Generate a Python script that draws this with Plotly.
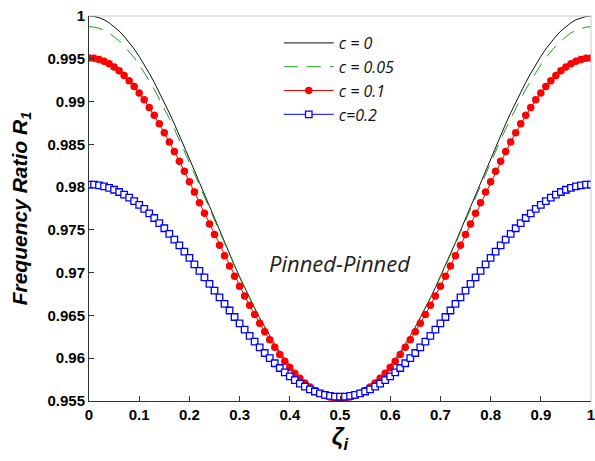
import plotly.graph_objects as go

zeta = [i / 100 for i in range(101)]

r_c0 = [1.00000, 0.99995, 0.99980, 0.99956, 0.99921, 0.99878, 0.99825, 0.99763, 0.99692, 0.99614,
        0.99527, 0.99433, 0.99331, 0.99224, 0.99110, 0.98991, 0.98867, 0.98739, 0.98607, 0.98472,
        0.98334, 0.98195, 0.98054, 0.97913, 0.97772, 0.97631, 0.97491, 0.97353, 0.97217, 0.97083,
        0.96953, 0.96826, 0.96704, 0.96585, 0.96472, 0.96364, 0.96261, 0.96164, 0.96073, 0.95988,
        0.95911, 0.95839, 0.95775, 0.95718, 0.95669, 0.95627, 0.95592, 0.95565, 0.95546, 0.95534,
        0.95530,
        0.95534, 0.95546, 0.95565, 0.95592, 0.95627, 0.95669, 0.95718, 0.95775, 0.95839, 0.95911,
        0.95988, 0.96073, 0.96164, 0.96261, 0.96364, 0.96472, 0.96585, 0.96704, 0.96826, 0.96953,
        0.97083, 0.97217, 0.97353, 0.97491, 0.97631, 0.97772, 0.97913, 0.98054, 0.98195, 0.98334,
        0.98472, 0.98607, 0.98739, 0.98867, 0.98991, 0.99110, 0.99224, 0.99331, 0.99433, 0.99527,
        0.99614, 0.99692, 0.99763, 0.99825, 0.99878, 0.99921, 0.99956, 0.99980, 0.99995, 1.00000]

r_c005 = [0.99875, 0.99870, 0.99856, 0.99834, 0.99801, 0.99761, 0.99711, 0.99652, 0.99585, 0.99512,
          0.99430, 0.99341, 0.99244, 0.99143, 0.99034, 0.98921, 0.98802, 0.98680, 0.98553, 0.98424,
          0.98291, 0.98156, 0.98020, 0.97883, 0.97746, 0.97609, 0.97472, 0.97337, 0.97204, 0.97072,
          0.96944, 0.96819, 0.96698, 0.96581, 0.96469, 0.96362, 0.96259, 0.96163, 0.96072, 0.95987,
          0.95911, 0.95839, 0.95775, 0.95718, 0.95669, 0.95627, 0.95592, 0.95565, 0.95546, 0.95534,
          0.95530,
          0.95534, 0.95546, 0.95565, 0.95592, 0.95627, 0.95669, 0.95718, 0.95775, 0.95839, 0.95911,
          0.95987, 0.96072, 0.96163, 0.96259, 0.96362, 0.96469, 0.96581, 0.96698, 0.96819, 0.96944,
          0.97072, 0.97204, 0.97337, 0.97472, 0.97609, 0.97746, 0.97883, 0.98020, 0.98156, 0.98291,
          0.98424, 0.98553, 0.98680, 0.98802, 0.98921, 0.99034, 0.99143, 0.99244, 0.99341, 0.99430,
          0.99512, 0.99585, 0.99652, 0.99711, 0.99761, 0.99801, 0.99834, 0.99856, 0.99870, 0.99875]

r_c01 = [0.99510, 0.99506, 0.99493, 0.99472, 0.99442, 0.99405, 0.99359, 0.99305, 0.99244, 0.99177,
         0.99101, 0.99020, 0.98931, 0.98839, 0.98740, 0.98636, 0.98528, 0.98417, 0.98302, 0.98184,
         0.98063, 0.97942, 0.97818, 0.97694, 0.97570, 0.97445, 0.97321, 0.97199, 0.97078, 0.96959,
         0.96842, 0.96728, 0.96619, 0.96511, 0.96409, 0.96310, 0.96216, 0.96127, 0.96043, 0.95964,
         0.95893, 0.95825, 0.95765, 0.95711, 0.95664, 0.95624, 0.95591, 0.95564, 0.95546, 0.95534,
         0.95530,
         0.95534, 0.95546, 0.95564, 0.95591, 0.95624, 0.95664, 0.95711, 0.95765, 0.95825, 0.95893,
         0.95964, 0.96043, 0.96127, 0.96216, 0.96310, 0.96409, 0.96511, 0.96619, 0.96728, 0.96842,
         0.96959, 0.97078, 0.97199, 0.97321, 0.97445, 0.97570, 0.97694, 0.97818, 0.97942, 0.98063,
         0.98184, 0.98302, 0.98417, 0.98528, 0.98636, 0.98740, 0.98839, 0.98931, 0.99020, 0.99101,
         0.99177, 0.99244, 0.99305, 0.99359, 0.99405, 0.99442, 0.99472, 0.99493, 0.99506, 0.99510]

r_c02 = [0.98030, 0.98028, 0.98020, 0.98008, 0.97991, 0.97969, 0.97943, 0.97912, 0.97877, 0.97837,
         0.97793, 0.97745, 0.97694, 0.97639, 0.97580, 0.97519, 0.97454, 0.97387, 0.97318, 0.97246,
         0.97173, 0.97098, 0.97022, 0.96945, 0.96868, 0.96790, 0.96712, 0.96635, 0.96558, 0.96482,
         0.96407, 0.96334, 0.96262, 0.96193, 0.96126, 0.96061, 0.96000, 0.95941, 0.95886, 0.95835,
         0.95787, 0.95743, 0.95703, 0.95668, 0.95637, 0.95611, 0.95589, 0.95572, 0.95560, 0.95552,
         0.95550,
         0.95552, 0.95560, 0.95572, 0.95589, 0.95611, 0.95637, 0.95668, 0.95703, 0.95743, 0.95787,
         0.95835, 0.95886, 0.95941, 0.96000, 0.96061, 0.96126, 0.96193, 0.96262, 0.96334, 0.96407,
         0.96482, 0.96558, 0.96635, 0.96712, 0.96790, 0.96868, 0.96945, 0.97022, 0.97098, 0.97173,
         0.97246, 0.97318, 0.97387, 0.97454, 0.97519, 0.97580, 0.97639, 0.97694, 0.97745, 0.97793,
         0.97837, 0.97877, 0.97912, 0.97943, 0.97969, 0.97991, 0.98008, 0.98020, 0.98028, 0.98030]

series_names = ["c = 0", "c = 0.05", "c = 0.1", "c=0.2"]

x_tickvals = [0, 0.1, 0.2, 0.3, 0.4, 0.5, 0.6, 0.7, 0.8, 0.9, 1]
x_ticktext = ["0", "0.1", "0.2", "0.3", "0.4", "0.5", "0.6", "0.7", "0.8", "0.9", "1"]
y_tickvals = [0.955, 0.96, 0.965, 0.97, 0.975, 0.98, 0.985, 0.99, 0.995, 1.0]
y_ticktext = ["0.955", "0.96", "0.965", "0.97", "0.975", "0.98", "0.985", "0.99", "0.995", "1"]

fig = go.Figure()
fig.add_trace(go.Scatter(x=zeta, y=r_c0, mode="lines", name=series_names[0], legendgroup="a",
                         line=dict(color="#111111", width=1)))
fig.add_trace(go.Scatter(x=zeta, y=r_c005, mode="lines", name=series_names[1], legendgroup="b",
                         line=dict(color="#1f9a1f", width=1, dash="14px,9px")))
fig.add_trace(go.Scatter(x=zeta, y=r_c01, mode="lines+markers", name=series_names[2], legendgroup="c",
                         line=dict(color="#ff0000", width=1),
                         marker=dict(symbol="circle", size=7.5, color="#ff0000", line=dict(width=0))))
fig.add_trace(go.Scatter(x=zeta, y=r_c02, mode="lines+markers", name=series_names[3], legendgroup="d",
                         line=dict(color="#0000ff", width=1),
                         marker=dict(symbol="square", size=6.5, color="white",
                                     line=dict(color="#0000ff", width=1.3))))

fig.add_annotation(x=0.5, y=0.9711, xref="x", yref="y", text="<i>Pinned-Pinned</i>", showarrow=False,
                   font=dict(family="Open Sans", size=22, color="#222222"))

# light top/right frame
fig.add_shape(type="line", xref="paper", yref="paper", x0=0, x1=1, y0=1, y1=1,
              line=dict(color="#c8c8c8", width=1))
fig.add_shape(type="line", xref="paper", yref="paper", x0=1, x1=1, y0=0, y1=1,
              line=dict(color="#c8c8c8", width=1))

tickfont = dict(family="Liberation Sans", size=15, color="#000000", weight="bold")
fig.update_xaxes(range=[0, 1], tickvals=x_tickvals, ticktext=x_ticktext, ticks="inside", ticklen=5,
                 tickcolor="#333333", showline=True, linecolor="#333333", linewidth=1,
                 showgrid=False, zeroline=False, tickfont=tickfont, automargin=False,
                 ticklabeloverflow="allow",
                 title=dict(text="<b><i>ζ<sub>i</sub></i></b>",
                            font=dict(family="Liberation Sans", size=24, color="#000000"), standoff=0))
fig.update_yaxes(range=[0.955, 1.0], tickvals=y_tickvals, ticktext=y_ticktext, ticks="inside", ticklen=5,
                 tickcolor="#333333", showline=True, linecolor="#333333", linewidth=1,
                 showgrid=False, zeroline=False, tickfont=tickfont, automargin=False,
                 ticklabeloverflow="allow",
                 title=dict(text="<b><i>Frequency Ratio R<sub>1</sub></i></b>",
                            font=dict(family="Liberation Sans", size=21, color="#000000"), standoff=14))

fig.update_layout(
    width=595, height=461,
    margin=dict(l=89, r=4, t=16, b=60, autoexpand=False),
    paper_bgcolor="white", plot_bgcolor="white",
    showlegend=True,
    legend=dict(x=0.378, y=0.974, xanchor="left", yanchor="top", bgcolor="rgba(0,0,0,0)",
                font=dict(family="Open Sans", size=16, color="#111111", style="italic"),
                itemwidth=50, tracegroupgap=8, traceorder="normal"),
)

fig.write_html("out.html", config={"displayModeBar": False},
               post_script="document.body.style.margin='0';document.body.style.padding='0';")
